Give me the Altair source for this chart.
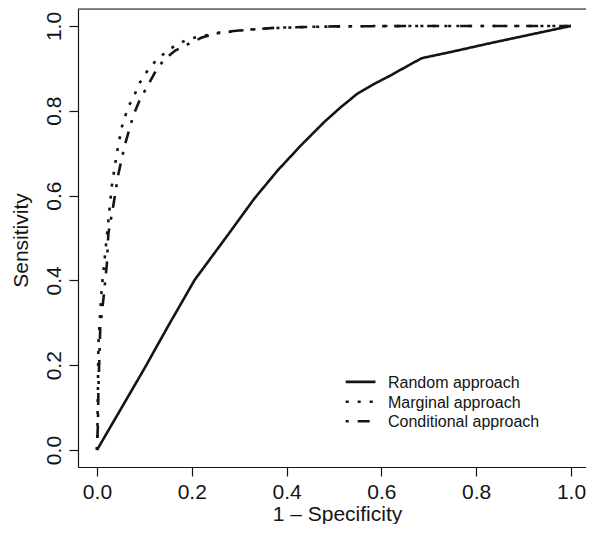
import altair as alt
import pandas as pd

# ---- data ----
random_x = [0.0, 0.05, 0.10, 0.15, 0.206, 0.276, 0.332, 0.381, 0.430, 0.479, 0.514, 0.549, 0.584,
            0.619, 0.654, 0.685, 0.752, 0.836, 1.0]
random_y = [0.0, 0.096, 0.192, 0.292, 0.401, 0.507, 0.593, 0.659, 0.718, 0.773, 0.808, 0.840, 0.863,
            0.883, 0.905, 0.924, 0.940, 0.961, 1.0]

marginal_x = [0.0, 0.001, 0.002, 0.003, 0.010, 0.017, 0.024, 0.031, 0.042, 0.052, 0.066, 0.077, 0.087,
              0.098, 0.110, 0.126, 0.147, 0.164, 0.185, 0.210, 0.250, 0.300, 0.350, 0.450, 0.600, 0.800, 1.0]
marginal_y = [0.0, 0.05, 0.14, 0.25, 0.38, 0.46, 0.54, 0.62, 0.70, 0.76, 0.81, 0.83, 0.86,
              0.88, 0.90, 0.92, 0.94, 0.953, 0.965, 0.974, 0.982, 0.989, 0.994, 0.998, 1.0, 1.0, 1.0]

conditional_x = [0.0, 0.002, 0.003, 0.007, 0.014, 0.021, 0.024, 0.035, 0.045, 0.059, 0.077, 0.090,
                 0.105, 0.126, 0.143, 0.165, 0.192, 0.220, 0.255, 0.315, 0.381, 0.500, 0.700, 1.0]
conditional_y = [0.0, 0.06, 0.14, 0.29, 0.36, 0.44, 0.51, 0.58, 0.65, 0.72, 0.79, 0.825,
                 0.855, 0.898, 0.922, 0.942, 0.957, 0.972, 0.984, 0.991, 0.996, 0.999, 1.0, 1.0]

series_names = ["Random approach", "Marginal approach", "Conditional approach"]
dash_styles = [[1, 0], [3, 9], [3, 9, 12, 9]]
tick_values = [0.0, 0.2, 0.4, 0.6, 0.8, 1.0]

rows = []
for name, xs, ys in zip(series_names,
                        [random_x, marginal_x, conditional_x],
                        [random_y, marginal_y, conditional_y]):
    for i, (a, b) in enumerate(zip(xs, ys)):
        rows.append({"series": name, "fpr": a, "tpr": b, "idx": i})
df = pd.DataFrame(rows)

FONT = "Liberation Sans"
W, H = 508, 458
INK = "#141414"

xscale = alt.Scale(domain=[-0.04, 1.0317], nice=False, zero=False)
yscale = alt.Scale(domain=[-0.04, 1.04], nice=False, zero=False)

lines = alt.Chart(df).mark_line(color=INK, strokeWidth=2.6, strokeCap="butt").encode(
    x=alt.X("fpr:Q", scale=xscale,
            axis=alt.Axis(title="1 \u2013 Specificity", values=tick_values, format=".1f",
                          labelFontSize=21, titleFontSize=21, labelFont=FONT, titleFont=FONT,
                          labelColor=INK, titleColor=INK, titleFontWeight="normal",
                          tickSize=9, tickColor=INK, tickWidth=1.2,
                          domainColor=INK, domainWidth=1.2, grid=False,
                          labelBaseline="alphabetic", labelPadding=22,
                          titleX=259, titleY=53, titleAlign="center", titleBaseline="alphabetic",
                          labelFlush=False, labelOverlap=False)),
    y=alt.Y("tpr:Q", scale=yscale,
            axis=alt.Axis(title="Sensitivity", values=tick_values, format=".1f",
                          labelFontSize=21, titleFontSize=21, labelFont=FONT, titleFont=FONT,
                          labelColor=INK, titleColor=INK, titleFontWeight="normal",
                          tickSize=9, tickColor=INK, tickWidth=1.2,
                          domainColor=INK, domainWidth=1.2, grid=False,
                          labelAngle=-90, labelAlign="center", labelBaseline="alphabetic",
                          labelPadding=9, labelFlush=False, labelOverlap=False,
                          titleAngle=-90, titleX=-51, titleY=231,
                          titleAlign="center", titleBaseline="alphabetic")),
    strokeDash=alt.StrokeDash("series:N",
                              scale=alt.Scale(domain=series_names, range=dash_styles),
                              legend=None),
    detail="series:N",
    order="idx:Q",
)

top_border = alt.Chart(pd.DataFrame({"v": [0]})).mark_rule(color=INK, strokeWidth=1.2).encode(
    y=alt.value(0)
)

# manual legend (R style, no box)
leg_y = [372.9, 392.7, 412.3]
layers = [lines, top_border]
for name, dash, yy in zip(series_names, dash_styles, leg_y):
    ld = pd.DataFrame({"label": [name]})
    layers.append(
        alt.Chart(ld).mark_rule(color=INK, strokeWidth=2.6, strokeDash=dash, strokeCap="butt").encode(
            x=alt.value(267.7), x2=alt.value(297.5), y=alt.value(yy)
        )
    )
    layers.append(
        alt.Chart(ld).mark_text(font=FONT, fontSize=16, color=INK, align="left",
                                baseline="alphabetic").encode(
            text="label:N", x=alt.value(310), y=alt.value(yy + 5.8)
        )
    )

chart = alt.layer(*layers).properties(
    width=W, height=H,
    autosize=alt.AutoSizeParams(type="none"),
    padding={"left": 70, "top": 1, "right": 0, "bottom": 57},
).configure_view(stroke=None).configure(background="white")

chart.save("out.html", embed_options={"renderer": "svg", "actions": False})
